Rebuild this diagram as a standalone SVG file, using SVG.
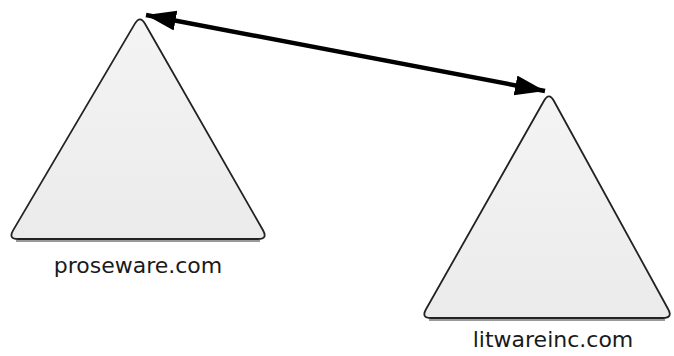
<svg xmlns="http://www.w3.org/2000/svg" width="674" height="356" viewBox="0 0 674 356">
<style>
.tri{fill:url(#g);stroke:#222;stroke-width:1.8;stroke-linejoin:round}
.sh{stroke:#777;stroke-width:1.5;fill:none}
.lbl{font-family:"DejaVu Sans",Verdana,sans-serif;font-size:22px;fill:#1a1a1a;text-anchor:middle}
.conn{stroke:#000;stroke-width:4.5;fill:none}
</style>
<defs>
<linearGradient id="g" x1="0" y1="0" x2="0" y2="1">
<stop offset="0" stop-color="#f4f4f4"/>
<stop offset="1" stop-color="#ebebeb"/>
</linearGradient>
<marker id="ah" markerUnits="userSpaceOnUse" markerWidth="32" markerHeight="22" refX="30" refY="10" orient="auto-start-reverse">
<path d="M0,0 L30,10 L0,20 Z" fill="#000"/>
</marker>
</defs>
<rect width="674" height="356" fill="#fff"/>
<g id="proseware">
<path class="tri" d="M134.9,23.6 Q140,15 145,23.7 L263,230.3 Q268,239 258,239 L18,239 Q8,239 13.1,230.4 Z"/>
<line class="sh" x1="16" y1="241" x2="260" y2="241"/>
<text class="lbl" x="138" y="273">proseware.com</text>
</g>
<g id="litwareinc">
<path class="tri" d="M544,100.7 Q549,92 553.8,100.8 L668.2,309.2 Q673,318 663,318 L431,318 Q421,318 426,309.3 Z"/>
<line class="sh" x1="429" y1="320" x2="665" y2="320"/>
<text class="lbl" x="553" y="347">litwareinc.com</text>
</g>
<g id="connectors">
<line class="conn" x1="146" y1="15" x2="545" y2="91" marker-start="url(#ah)" marker-end="url(#ah)"/>
</g>
</svg>
